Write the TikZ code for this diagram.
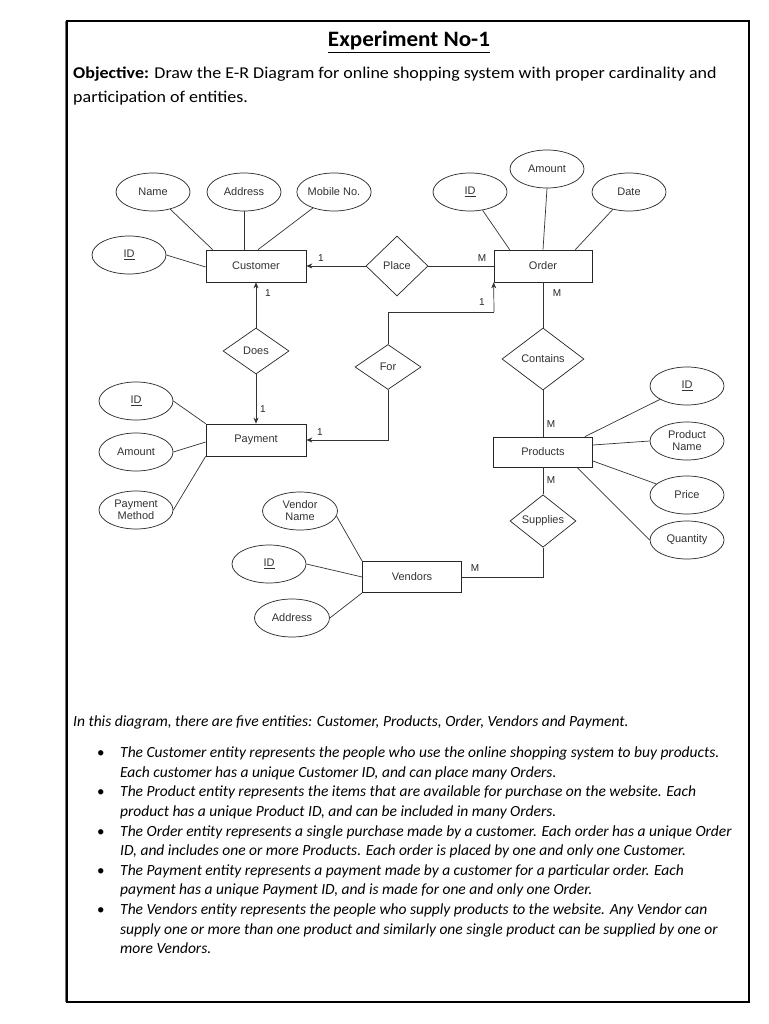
\documentclass[tikz,border=0pt]{standalone}
\usepackage{fontspec}
\setmainfont{Carlito}
\newfontfamily\arial{Liberation Sans}
\usetikzlibrary{shapes.geometric,arrows.meta,calc}
\begin{document}
\begin{tikzpicture}[x=1pt,y=-1pt,
  ent/.style={draw=black!85,line width=0.7pt,rectangle,minimum width=100pt,minimum height=32pt,inner sep=0pt,font=\arial\fontsize{11}{13}\selectfont,text=black!80},
  attr/.style={draw=black!85,line width=0.7pt,ellipse,minimum width=74pt,minimum height=38pt,inner sep=0pt,font=\arial\fontsize{11}{12}\selectfont,text=black!80,align=center},
  rel/.style={draw=black!85,line width=0.7pt,diamond,inner sep=0pt,font=\arial\fontsize{11}{13}\selectfont,text=black!80},
  ln/.style={draw=black!80,line width=0.7pt},
  arr/.style={ln,-{Stealth[length=6pt,width=5pt]}},
  card/.style={font=\arial\fontsize{10}{12}\selectfont,text=black!85,inner sep=0pt},
  txt/.style={anchor=base west,inner sep=0pt,font=\fontsize{15.5}{18}\selectfont\itshape},
  bul/.style={anchor=base west,inner sep=0pt,font=\fontsize{15}{18}\selectfont}
]
\useasboundingbox (0,0) rectangle (768,1024);
\fill[white] (0,0) rectangle (768,1024);
% page border
\draw[black!55,line width=1pt] (65,21) -- (65,1002);
\draw[black,line width=1.6pt] (67,21) rectangle (749,1002);

% title
\node[inner sep=0pt,anchor=base,font=\fontsize{22}{24}\selectfont\bfseries] (title) at (409,47) {\scalebox{1.05}[1]{\underline{Experiment No-1}}};
\node[anchor=base west,inner sep=0pt,font=\fontsize{16.5}{18}\selectfont] (obj1) at (73,79) {\scalebox{1.09}[1]{\textbf{Objective:} Draw the E-R Diagram for online shopping system with proper cardinality and}};
\node[anchor=base west,inner sep=0pt,font=\fontsize{16.5}{18}\selectfont] (obj2) at (73,103) {\scalebox{1.09}[1]{participation of entities.}};

% entities
\node[ent] (cust) at (256,266) {Customer};
\node[ent,minimum width=98pt] (order) at (543,266) {Order};
\node[ent,minimum width=99pt,minimum height=30pt] (prod) at (543,452) {Products};
\node[ent] (pay) at (256,440) {Payment};
\node[ent,minimum width=99pt,minimum height=31pt] (vend) at (412,577) {Vendors};

% relationships
\node[rel,minimum width=62pt,minimum height=60pt] (place) at (397,266) {Place};
\node[rel,minimum width=66pt,minimum height=46pt] (does) at (256,351) {Does};
\node[rel,minimum width=66pt,minimum height=45pt] (for) at (388,367) {For};
\node[rel,minimum width=82pt,minimum height=62pt] (contains) at (543,359) {Contains};
\node[rel,minimum width=66pt,minimum height=45pt] (sup) at (543,521) {Supplies};

% customer attributes
\node[attr] (cname) at (153,192) {Name};
\node[attr] (caddr) at (244,192) {Address};
\node[attr] (cmob) at (334,192) {Mobile No.};
\node[attr] (cid) at (129,255) {\underline{ID}};
\draw[ln] (cname.-45) -- ([xshift=7pt]cust.north west);
\draw[ln] (caddr) -- ([xshift=-12pt]cust.north);
\draw[ln] (cmob) -- ([xshift=2pt]cust.north);
\draw[ln] (cid.east) -- ([yshift=-1pt]cust.west);

% order attributes
\node[attr] (oid) at (470,192) {\underline{ID}};
\node[attr] (oamt) at (547,169) {Amount};
\node[attr] (odate) at (629,192) {Date};
\draw[ln] (oid) -- ([xshift=16pt]order.north west);
\draw[ln] (oamt.south) -- (order.north);
\draw[ln] (odate) -- ([xshift=-17pt]order.north east);

% product attributes
\node[attr] (pid) at (687,386) {\underline{ID}};
\node[attr] (pname) at (687,441) {Product\\Name};
\node[attr] (pprice) at (687,495) {Price};
\node[attr] (pqty) at (687,540) {Quantity};
\draw[ln] (pid) -- ([xshift=-8pt]prod.north east);
\draw[ln] (pname.west) -- ([yshift=7pt]prod.east);
\draw[ln] (pprice) -- ([yshift=-9pt]prod.east);
\draw[ln] (pqty.west) -- ([xshift=-16pt]prod.south east);

% payment attributes
\node[attr] (payid) at (136,401) {\underline{ID}};
\node[attr] (payamt) at (136,452) {Amount};
\node[attr] (paymeth) at (136,510) {Payment\\Method};
\draw[ln] (payid.east) -- (pay.north west);
\draw[ln] (payamt.east) -- ([yshift=-2pt]pay.west);
\draw[ln] (paymeth.east) -- (pay.south west);

% vendor attributes
\node[attr,minimum width=75pt] (vname) at (300,511) {Vendor\\Name};
\node[attr] (vid) at (269,564) {\underline{ID}};
\node[attr,minimum width=75pt] (vaddr) at (292,618) {Address};
\draw[ln] (vname.-8) -- (vend.north west);
\draw[ln] (vid.east) -- (vend.west);
\draw[ln] (vaddr.east) -- (vend.south west);

% connectors
\coordinate (forbend) at (494,312);
\draw[arr] (place.west) -- (cust.east);
\draw[ln] (place.east) -- (order.west);
\draw[arr] (does.north) -- (cust.south);
\draw[arr] (does.south) -- (pay.north);
\draw[ln] (for.north) |- (forbend);
\draw[arr] (forbend) -- (order.south west);
\draw[arr] (for.south) |- (pay.east);
\draw[ln] (order.south) -- (contains.north);
\draw[ln] (contains.south) -- (prod.north);
\draw[ln] (prod.south) -- (sup.north);
\draw[ln] (sup.south) |- (vend.east);

% cardinalities
\node[card] (c1) at (321,258) {1};
\node[card] (c2) at (482,258) {M};
\node[card] (c3) at (268,293) {1};
\node[card] (c4) at (263,409) {1};
\node[card] (c5) at (320,432) {1};
\node[card] (c6) at (482,302) {1};
\node[card] (c7) at (557,293) {M};
\node[card] (c8) at (551,424) {M};
\node[card] (c9) at (551,480) {M};
\node[card] (c10) at (475,568) {M};

% description
\node[txt] (d0) at (73,726) {In this diagram, there are five entities: Customer, Products, Order, Vendors and Payment.};
\node[bul] (b1) at (97,757) {\textbullet};
\node[txt] (t1a) at (120,757) {The Customer entity represents the people who use the online shopping system to buy products.};
\node[txt] (t1b) at (120,777) {Each customer has a unique Customer ID, and can place many Orders.};
\node[bul] (b2) at (97,796) {\textbullet};
\node[txt] (t2a) at (120,796) {The Product entity represents the items that are available for purchase on the website. Each};
\node[txt] (t2b) at (120,816) {product has a unique Product ID, and can be included in many Orders.};
\node[bul] (b3) at (97,836) {\textbullet};
\node[txt] (t3a) at (120,836) {The Order entity represents a single purchase made by a customer. Each order has a unique Order};
\node[txt] (t3b) at (120,855) {ID, and includes one or more Products. Each order is placed by one and only one Customer.};
\node[bul] (b4) at (97,875) {\textbullet};
\node[txt] (t4a) at (120,875) {The Payment entity represents a payment made by a customer for a particular order. Each};
\node[txt] (t4b) at (120,894) {payment has a unique Payment ID, and is made for one and only one Order.};
\node[bul] (b5) at (97,914) {\textbullet};
\node[txt] (t5a) at (120,914) {The Vendors entity represents the people who supply products to the website. Any Vendor can};
\node[txt] (t5b) at (120,934) {supply one or more than one product and similarly one single product can be supplied by one or};
\node[txt] (t5c) at (120,953) {more Vendors.};
\end{tikzpicture}
\end{document}
